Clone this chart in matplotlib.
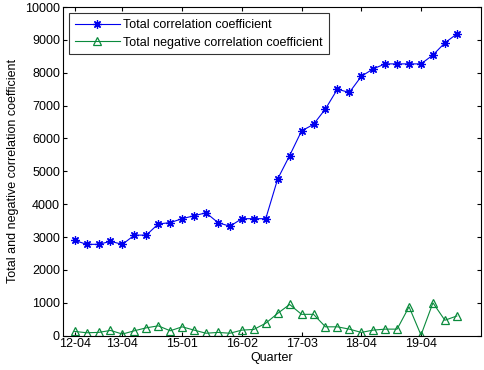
import numpy as np
import matplotlib.pyplot as plt

plt.rcParams['font.family'] = ['Liberation Sans', 'DejaVu Sans']
plt.rcParams['font.size'] = 9

# Quarter index (1..33) and the values
quarter = np.arange(1, 34)
total = [2900, 2780, 2780, 2870, 2780, 3060, 3060, 3400, 3440, 3560,
         3650, 3740, 3440, 3330, 3560, 3560, 3560, 4770, 5480, 6230,
         6430, 6900, 7500, 7400, 7890, 8120, 8270, 8270, 8270, 8270,
         8540, 8910, 9180]
negative = [130, 90, 100, 160, 50, 150, 240, 300, 150, 270,
            170, 75, 100, 75, 170, 190, 380, 680, 950, 650,
            650, 270, 270, 200, 100, 170, 200, 200, 880, 20,
            1000, 470, 600]

tick_pos = [1, 5, 10, 15, 20, 25, 30]
tick_labels = ['12-04', '13-04', '15-01', '16-02', '17-03', '18-04', '19-04']

fig = plt.figure(figsize=(4.84, 3.70), dpi=100)
ax = fig.add_axes([0.1296, 0.0927, 0.8636, 0.8883])

# (8, 2, 0) is an eight-armed asterisk, like MATLAB's '*'
ax.plot(quarter, total, '-', marker=(8, 2, 0), color='#0000ee', lw=0.8,
        ms=6, mew=0.9, label='Total correlation coefficient')
ax.plot(quarter, negative, '-^', color='#0a8a3c', lw=0.8, ms=6,
        mfc='none', mew=0.9, label='Total negative correlation coefficient')

ax.set_xlim(0, 35)
ax.set_ylim(0, 10000)
ax.set_xticks(tick_pos)
ax.set_xticklabels(tick_labels)
ax.set_yticks(np.arange(0, 10001, 1000))
ax.tick_params(direction='in', top=True, right=True, length=3, width=0.8, pad=2)
for s in ax.spines.values():
    s.set_linewidth(0.8)

ax.set_xlabel('Quarter', labelpad=1)
ax.set_ylabel('Total and negative correlation coefficient', labelpad=4)

leg = ax.legend(loc='upper left', fancybox=False, edgecolor='black',
                handlelength=3.6, borderaxespad=0.5, labelspacing=0.45,
                handletextpad=0.3, borderpad=0.45)
leg.get_frame().set_linewidth(0.8)

fig.savefig('out.png', dpi=100)
